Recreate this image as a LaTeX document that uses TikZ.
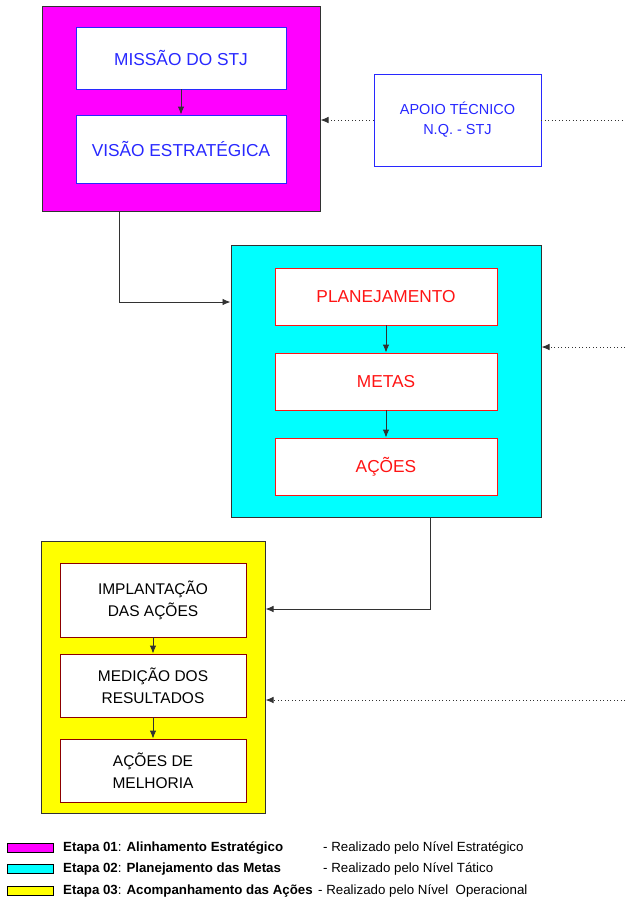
\documentclass[tikz,border=0pt]{standalone}
\usepackage{fontspec}
\setmainfont{Liberation Sans}
\usetikzlibrary{arrows.meta}
\definecolor{stage1}{RGB}{255,0,255}
\definecolor{stage2}{RGB}{0,255,255}
\definecolor{stage3}{RGB}{255,255,0}
\definecolor{itemblue}{RGB}{40,40,255}
\definecolor{itemred}{RGB}{255,20,20}
\definecolor{itemdark}{RGB}{140,0,0}
\definecolor{edge}{RGB}{50,50,50}
\tikzset{
  stage/.style={draw=edge,line width=1pt,inner sep=0pt},
  item/.style={fill=white,line width=0.9pt,inner sep=0pt,align=center},
  blueitem/.style={item,draw=itemblue,text=itemblue,font=\fontsize{17.3}{20}\selectfont},
  reditem/.style={item,draw=itemred,text=itemred,font=\fontsize{17.3}{20}\selectfont,
    minimum width=222,minimum height=57},
  darkitem/.style={item,draw=itemdark,text=black,font=\fontsize{15.5}{22}\selectfont,
    minimum width=186},
  link/.style={draw=edge,line width=0.9pt,-{Latex[length=8pt,width=6.5pt]}},
  support/.style={link,dash pattern=on 1pt off 2.5pt},
  swatch/.style={draw=black,line width=1pt,minimum width=46,minimum height=9,inner sep=0pt},
  legend/.style={anchor=west,inner sep=0pt,font=\fontsize{13.3}{15}\selectfont}
}
\begin{document}
\begin{tikzpicture}[x=1pt,y=-1pt]
  \useasboundingbox (0,0) rectangle (625,903);

  \node[stage,fill=stage1,minimum width=278,minimum height=205] (etapa1) at (181,108.5) {};
  \node[blueitem,minimum width=210,minimum height=62] (missao) at (181,58) {MISSÃO DO STJ};
  \node[blueitem,minimum width=210,minimum height=68] (visao) at (181,149) {VISÃO ESTRATÉGICA};
  \node[blueitem,minimum width=167,minimum height=92,font=\fontsize{14.5}{20}\selectfont]
    (apoio) at (457.5,120) {APOIO TÉCNICO\\N.Q. - STJ};

  \node[stage,fill=stage2,minimum width=310,minimum height=272] (etapa2) at (386,381) {};
  \node[reditem] (planej) at (386,296.5) {PLANEJAMENTO};
  \node[reditem] (metas) at (386,381.5) {METAS};
  \node[reditem] (acoes) at (386,466.5) {AÇÕES};

  \node[stage,fill=stage3,minimum width=224,minimum height=272] (etapa3) at (153,677) {};
  \node[darkitem,minimum height=74] (implant) at (153,600) {IMPLANTAÇÃO\\DAS AÇÕES};
  \node[darkitem,minimum height=63] (medicao) at (153,685.5) {MEDIÇÃO DOS\\RESULTADOS};
  \node[darkitem,minimum height=63] (melhoria) at (153,770.5) {AÇÕES DE\\MELHORIA};

  \coordinate (in1) at (625,120);
  \coordinate (in2) at (625,347);
  \coordinate (in3) at (625,700);

  \draw[link] (missao) -- (visao);
  \draw[link] (planej) -- (metas);
  \draw[link] (metas) -- (acoes);
  \draw[link] (implant) -- (medicao);
  \draw[link] (medicao) -- (melhoria);

  \draw[support] (apoio.west) -- (apoio.west -| etapa1.east);
  \draw[support,-] (apoio.east) -- (in1);
  \draw[support] (in2) -- (in2 -| etapa2.east);
  \draw[support] (in3) -- (in3 -| etapa3.east);

  \draw[link] ([xshift=-62pt]etapa1.south) |- ([yshift=79pt]etapa2.west);
  \draw[link] ([xshift=44pt]etapa2.south) |- ([yshift=68pt]etapa3.east);

  \foreach \c/\y/\n/\t/\x/\r in {stage1/848/01/Alinhamento Estratégico/323/Estratégico,
      stage2/869/02/Planejamento das Metas/323/Tático,
      stage3/891/03/Acompanhamento das Ações/318/\ Operacional} {
    \node[swatch,fill=\c] (sw\n) at (30,\y) {};
    \node[legend] (leg\n) at (63,\y) {\textbf{Etapa \n}: \textbf{\t}};
    \node[legend] (lev\n) at (\x,\y) {- Realizado pelo Nível \r};
  }
\end{tikzpicture}
\end{document}
